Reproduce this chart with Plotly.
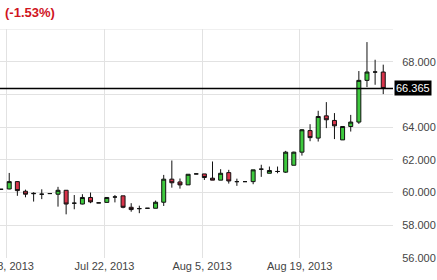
import plotly.graph_objects as go

dates = ["2013-07-07", "2013-07-08", "2013-07-09", "2013-07-10", "2013-07-11", "2013-07-12",
         "2013-07-14", "2013-07-15", "2013-07-16", "2013-07-17", "2013-07-18", "2013-07-19",
         "2013-07-21", "2013-07-22", "2013-07-23", "2013-07-24", "2013-07-25", "2013-07-26",
         "2013-07-28", "2013-07-29", "2013-07-30", "2013-07-31", "2013-08-01", "2013-08-02",
         "2013-08-04", "2013-08-05", "2013-08-06", "2013-08-07", "2013-08-08", "2013-08-09",
         "2013-08-11", "2013-08-12", "2013-08-13", "2013-08-14", "2013-08-15", "2013-08-16",
         "2013-08-18", "2013-08-19", "2013-08-20", "2013-08-21", "2013-08-22", "2013-08-23",
         "2013-08-25", "2013-08-26", "2013-08-27", "2013-08-28", "2013-08-29", "2013-08-30"]

opens = [60.20, 60.22, 60.67, 60.08, 59.93, 59.90,
         59.94, 59.90, 60.14, 59.35, 59.30, 59.70,
         59.37, 59.40, 59.73, 59.80, 59.10, 59.02,
         59.04, 59.04, 59.41, 60.82, 60.65, 60.47,
         61.14, 61.14, 60.88, 60.76, 61.22, 60.67,
         60.67, 60.67, 61.43, 61.18, 61.29, 61.25,
         61.67, 62.47, 63.79, 63.33, 64.69, 64.41,
         63.22, 64.04, 64.31, 66.86, 67.37, 67.37]
highs = [60.22, 61.20, 60.70, 60.18, 60.02, 60.20,
         59.95, 60.35, 60.15, 59.85, 59.90, 60.00,
         59.38, 59.72, 59.85, 59.80, 59.35, 59.20,
         59.05, 59.51, 61.08, 61.96, 60.86, 61.12,
         61.15, 61.14, 61.90, 61.43, 61.39, 60.85,
         60.68, 61.39, 61.70, 61.59, 61.59, 62.55,
         62.50, 63.88, 64.18, 65.00, 65.53, 64.86,
         64.04, 64.75, 67.43, 69.20, 68.12, 67.82]
lows = [60.19, 60.20, 59.80, 59.71, 59.45, 59.60,
        59.93, 59.14, 58.67, 58.98, 59.28, 59.35,
        59.36, 59.38, 59.40, 59.04, 58.83, 58.74,
        59.03, 59.04, 59.18, 60.30, 60.24, 60.47,
        61.13, 60.77, 60.76, 60.76, 60.55, 60.41,
        60.66, 60.51, 60.96, 61.18, 61.18, 61.20,
        61.67, 62.26, 63.14, 63.12, 63.94, 63.27,
        63.22, 63.73, 64.20, 66.45, 66.59, 66.02]
closes = [60.20, 60.67, 60.12, 59.90, 59.95, 59.90,
          59.94, 60.14, 59.30, 59.35, 59.70, 59.43,
          59.37, 59.70, 59.73, 59.10, 58.96, 59.02,
          59.04, 59.41, 60.82, 60.60, 60.47, 61.12,
          61.14, 60.92, 60.76, 61.18, 60.71, 60.67,
          60.67, 61.39, 61.43, 61.35, 61.29, 62.47,
          62.47, 63.84, 63.36, 64.65, 64.45, 64.08,
          64.04, 64.31, 66.86, 67.37, 67.37, 66.365]

tick_dates = ["2013-07-08", "2013-07-22", "2013-08-05", "2013-08-19"]
tick_text = ["Jul 8, 2013", "Jul 22, 2013", "Aug 5, 2013", "Aug 19, 2013"]
y_ticks = [56, 58, 60, 62, 64, 66, 68]
y_labels = ["56.000", "58.000", "60.000", "62.000", "64.000", "", "68.000"]
last_price = 66.365
change_text = "(-1.53%)"

idx = list(range(len(dates)))
tick_pos = [dates.index(d) - 0.28 for d in tick_dates]

fig = go.Figure()
fig.add_trace(go.Candlestick(
    x=idx, open=opens, high=highs, low=lows, close=closes,
    increasing=dict(fillcolor="#3ec93e", line=dict(color="#111111", width=1)),
    decreasing=dict(fillcolor="#d8334a", line=dict(color="#111111", width=1)),
    whiskerwidth=0, showlegend=False, hoverinfo="skip",
))

fig.add_shape(type="line", xref="paper", x0=0, x1=1, yref="y", y0=last_price, y1=last_price,
              line=dict(color="#000000", width=1.5))
fig.add_shape(type="line", xref="paper", x0=0, x1=1, yref="y", y0=70, y1=70,
              line=dict(color="#e2e2e2", width=1))

fig.add_annotation(x=1, xref="paper", xanchor="left", y=last_price, yref="y", yanchor="middle",
                   text=f"{last_price:.3f}", showarrow=False, bgcolor="#000000",
                   font=dict(color="#ffffff", size=11, family="Liberation Sans, Arial"),
                   borderpad=1, xshift=1)
fig.add_annotation(x=0, xref="paper", xanchor="left", xshift=3, y=1.074, yref="paper",
                   yanchor="middle", text="<b>" + change_text + "</b>", showarrow=False,
                   font=dict(color="#d0141e", size=13, family="Liberation Sans, Arial"))

fig.update_layout(
    width=437, height=280,
    margin=dict(l=0, r=44, t=29, b=22),
    paper_bgcolor="#ffffff", plot_bgcolor="#ffffff",
    font=dict(family="Liberation Sans, Arial", size=11, color="#444444"),
    xaxis=dict(range=[-0.135, 48.2], rangeslider=dict(visible=False),
               tickmode="array", tickvals=tick_pos, ticktext=tick_text,
               ticklabeloverflow="allow", automargin=False,
               showgrid=True, gridcolor="#e2e2e2", gridwidth=1, zeroline=False,
               showline=False, ticks="", tickfont=dict(size=11, color="#444444")),
    yaxis=dict(range=[56, 70], side="right", tickmode="array", tickvals=y_ticks,
               ticktext=y_labels, ticklabeloverflow="allow", automargin=False,
               showgrid=True, gridcolor="#e2e2e2", gridwidth=1, zeroline=False,
               showline=False, ticks="outside", ticklen=6, tickcolor="rgba(0,0,0,0)",
               tickfont=dict(size=11, color="#444444")),
)

fig.write_html("out.html")
